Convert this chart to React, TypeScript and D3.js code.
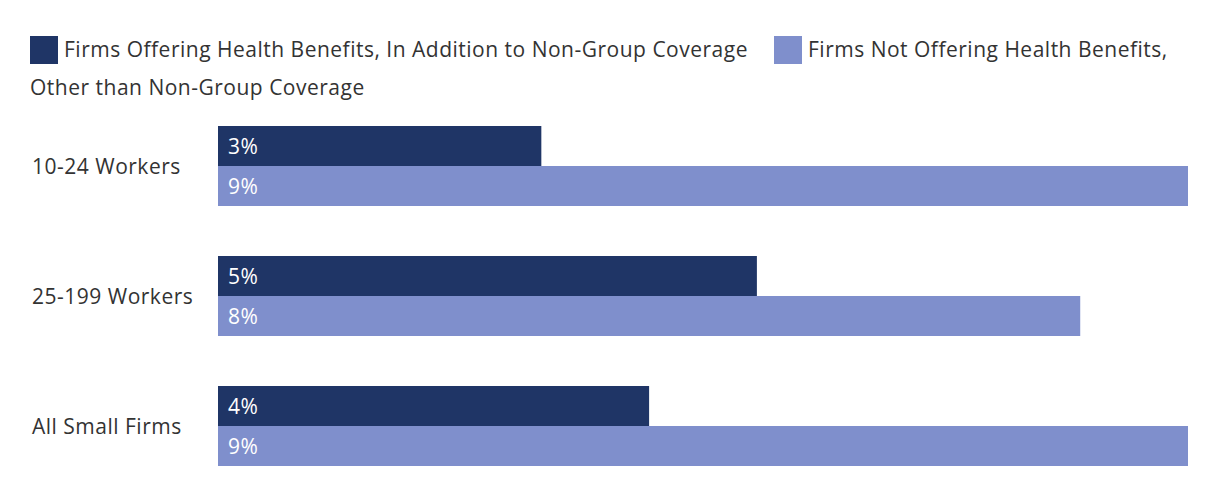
import { useRef, useEffect } from 'react';
import * as d3 from 'd3';

const categories = ['10-24 Workers', '25-199 Workers', 'All Small Firms'];
const seriesNames = [
  'Firms Offering Health Benefits, In Addition to Non-Group Coverage',
  'Firms Not Offering Health Benefits, Other than Non-Group Coverage',
];
const offering = [3, 5, 4];
const notOffering = [9, 8, 9];
const colors = ['#1f3566', '#7f8fcc'];

const width = 1220;
const height = 498;
const font = '"Open Sans", Lato, sans-serif';
const fontSize = 21;
const spacing = 0.5;

export default function App() {
  const svgRef = useRef<SVGSVGElement>(null);

  useEffect(() => {
    if (!svgRef.current) return;
    const svg = d3.select(svgRef.current);
    svg.selectAll('*').remove();

    const series = [offering, notOffering];

    // Scales
    const x = d3.scaleLinear().domain([0, 9]).range([218, 1188]);
    const y = d3.scaleBand<string>()
      .domain(categories)
      .range([126, 466])
      .paddingInner(50 / 130)
      .paddingOuter(0);
    const ySub = d3.scaleBand<number>()
      .domain([0, 1])
      .range([0, y.bandwidth()]);

    // Legend
    const legend = svg.append('g')
      .attr('font-family', font)
      .attr('font-size', fontSize)
      .attr('letter-spacing', spacing)
      .attr('fill', '#333');
    legend.append('rect').attr('x', 30).attr('y', 36).attr('width', 28).attr('height', 28).attr('fill', colors[0]);
    legend.append('text').attr('x', 64).attr('y', 49).attr('dominant-baseline', 'central').text(seriesNames[0]);
    legend.append('rect').attr('x', 774).attr('y', 36).attr('width', 28).attr('height', 28).attr('fill', colors[1]);
    legend.append('text').attr('x', 808).attr('y', 49).attr('dominant-baseline', 'central')
      .text(seriesNames[1].split(', ')[0] + ',');
    legend.append('text').attr('x', 30).attr('y', 87).attr('dominant-baseline', 'central')
      .text(seriesNames[1].split(', ')[1]);

    // Bars
    const g = svg.append('g')
      .attr('font-family', font)
      .attr('font-size', fontSize)
      .attr('letter-spacing', spacing);
    categories.forEach((cat, i) => {
      const gy = y(cat)!;
      series.forEach((vals, s) => {
        const by = gy + ySub(s)!;
        g.append('rect')
          .attr('x', x(0))
          .attr('y', by)
          .attr('width', x(vals[i]) - x(0))
          .attr('height', ySub.bandwidth())
          .attr('fill', colors[s]);
        g.append('text')
          .attr('x', x(0) + 10)
          .attr('y', by + ySub.bandwidth() / 2)
          .attr('dominant-baseline', 'central')
          .attr('fill', '#fff')
          .text(`${vals[i]}%`);
      });
      g.append('text')
        .attr('x', 32)
        .attr('y', gy + y.bandwidth() / 2)
        .attr('dominant-baseline', 'central')
        .attr('fill', '#333')
        .text(cat);
    });
  }, []);

  return (
    <svg
      ref={svgRef}
      width={width}
      height={height}
      style={{ position: 'absolute', left: 0, top: 0, background: '#fff' }}
    />
  );
}
